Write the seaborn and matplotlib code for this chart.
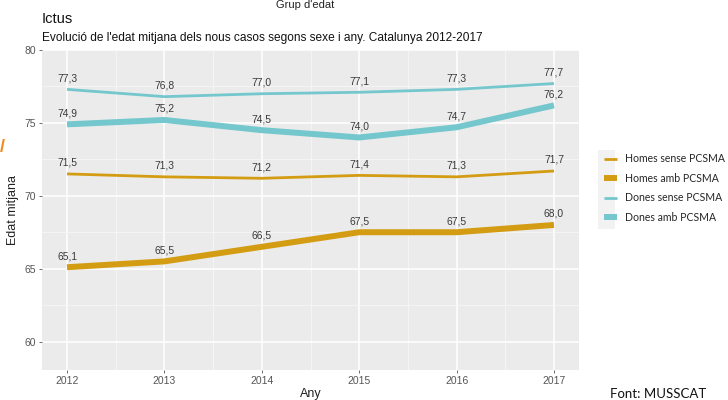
import matplotlib
matplotlib.use("Agg")
import matplotlib.pyplot as plt
from matplotlib.lines import Line2D
from matplotlib.patches import Rectangle
from matplotlib.ticker import MultipleLocator
import seaborn as sns
import pandas as pd

# Average age of new stroke cases by sex and PCSMA status, Catalonia 2012-2017
years = [2012, 2013, 2014, 2015, 2016, 2017]
homes_sense = [71.5, 71.3, 71.2, 71.4, 71.3, 71.7]
homes_amb = [65.1, 65.5, 66.5, 67.5, 67.5, 68.0]
dones_sense = [77.3, 76.8, 77.0, 77.1, 77.3, 77.7]
dones_amb = [74.9, 75.2, 74.5, 74.0, 74.7, 76.2]
groups = ["Homes sense PCSMA", "Homes amb PCSMA", "Dones sense PCSMA", "Dones amb PCSMA"]
series = [homes_sense, homes_amb, dones_sense, dones_amb]

gold = "#D39C12"
teal = "#74C7CD"
palette = {groups[0]: gold, groups[1]: gold, groups[2]: teal, groups[3]: teal}
widths = {groups[0]: 2.0, groups[1]: 4.3, groups[2]: 2.0, groups[3]: 4.3}

df = pd.DataFrame(
    [(y, v, g) for g, vals in zip(groups, series) for y, v in zip(years, vals)],
    columns=["Any", "Edat", "Grup"],
)

sns.set_theme(style="darkgrid")
plt.rcParams["font.family"] = ["Liberation Sans", "DejaVu Sans"]

fig = plt.figure(figsize=(7.28, 4.0), dpi=100)
ax = fig.add_axes([42 / 728, 1 - 370 / 400, 537 / 728, 320 / 400])
ax.set_facecolor("#EBEBEB")

sns.lineplot(data=df, x="Any", y="Edat", hue="Grup", size="Grup",
             palette=palette, sizes=widths, legend=False, ax=ax,
             solid_capstyle="butt")

# value labels above every point
for g, vals in zip(groups, series):
    for x, v in zip(years, vals):
        ax.annotate(f"{v:.1f}".replace(".", ","), (x, v), xytext=(0, 8),
                    textcoords="offset points", ha="center", va="center",
                    fontsize=7.4, color="#3a3a3a")

ax.set_xlim(2011.743, 2017.257)
ax.set_ylim(58.05, 80.0)
ax.set_xticks(years)
ax.set_yticks([60, 65, 70, 75, 80])
ax.xaxis.set_minor_locator(MultipleLocator(0.5))
ax.yaxis.set_minor_locator(MultipleLocator(2.5))
ax.grid(which="major", color="white", linewidth=1.1)
ax.grid(which="minor", color="#F7F7F7", linewidth=0.55)
for s in ax.spines.values():
    s.set_visible(False)
ax.tick_params(axis="both", which="major", labelsize=7.5, labelcolor="#555555",
               color="#555555", length=2.5, width=0.6, pad=2, bottom=True, left=True)
ax.tick_params(which="minor", length=0)
ax.set_xlabel("Any", fontsize=9, color="#222222", labelpad=1)
ax.set_ylabel("Edat mitjana", fontsize=9, color="#222222", labelpad=4)

# titles
fig.text(305 / 728, 1 - 5 / 400, "Grup d'edat", ha="center", va="center",
         fontsize=8, color="#222222")
fig.text(42 / 728, 1 - 19 / 400, "Ictus", ha="left", va="center",
         fontsize=10.5, color="#111111")
fig.text(42 / 728, 1 - 38 / 400,
         "Evolució de l'edat mitjana dels nous casos segons sexe i any. Catalunya 2012-2017",
         ha="left", va="center", fontsize=8.6, color="#111111")

# legend with grey key column
fig.patches.append(Rectangle((598 / 728, 1 - 229 / 400), 17 / 728, 79 / 400,
                             transform=fig.transFigure, facecolor="#F2F2F2",
                             edgecolor="none", zorder=0))
handles = [Line2D([], [], color=palette[g], linewidth=widths[g], solid_capstyle="butt")
           for g in groups]
leg = fig.legend(handles, groups, loc="center left",
                 bbox_to_anchor=(594 / 728, 1 - 188 / 400), frameon=False,
                 handlelength=1.3, handletextpad=0.75, labelspacing=0.8,
                 prop={"family": "Lato", "size": 7.6})

fig.text(610 / 728, 1 - 394 / 400, "Font: MUSSCAT", ha="left", va="center",
         fontsize=9.5, color="#111111", family="Lato")
fig.text(0 / 728, 1 - 148 / 400, "/", ha="left", va="center", fontsize=13,
         color="#F08A1C", fontweight="bold")

fig.savefig("out.png", dpi=100, facecolor="white")
